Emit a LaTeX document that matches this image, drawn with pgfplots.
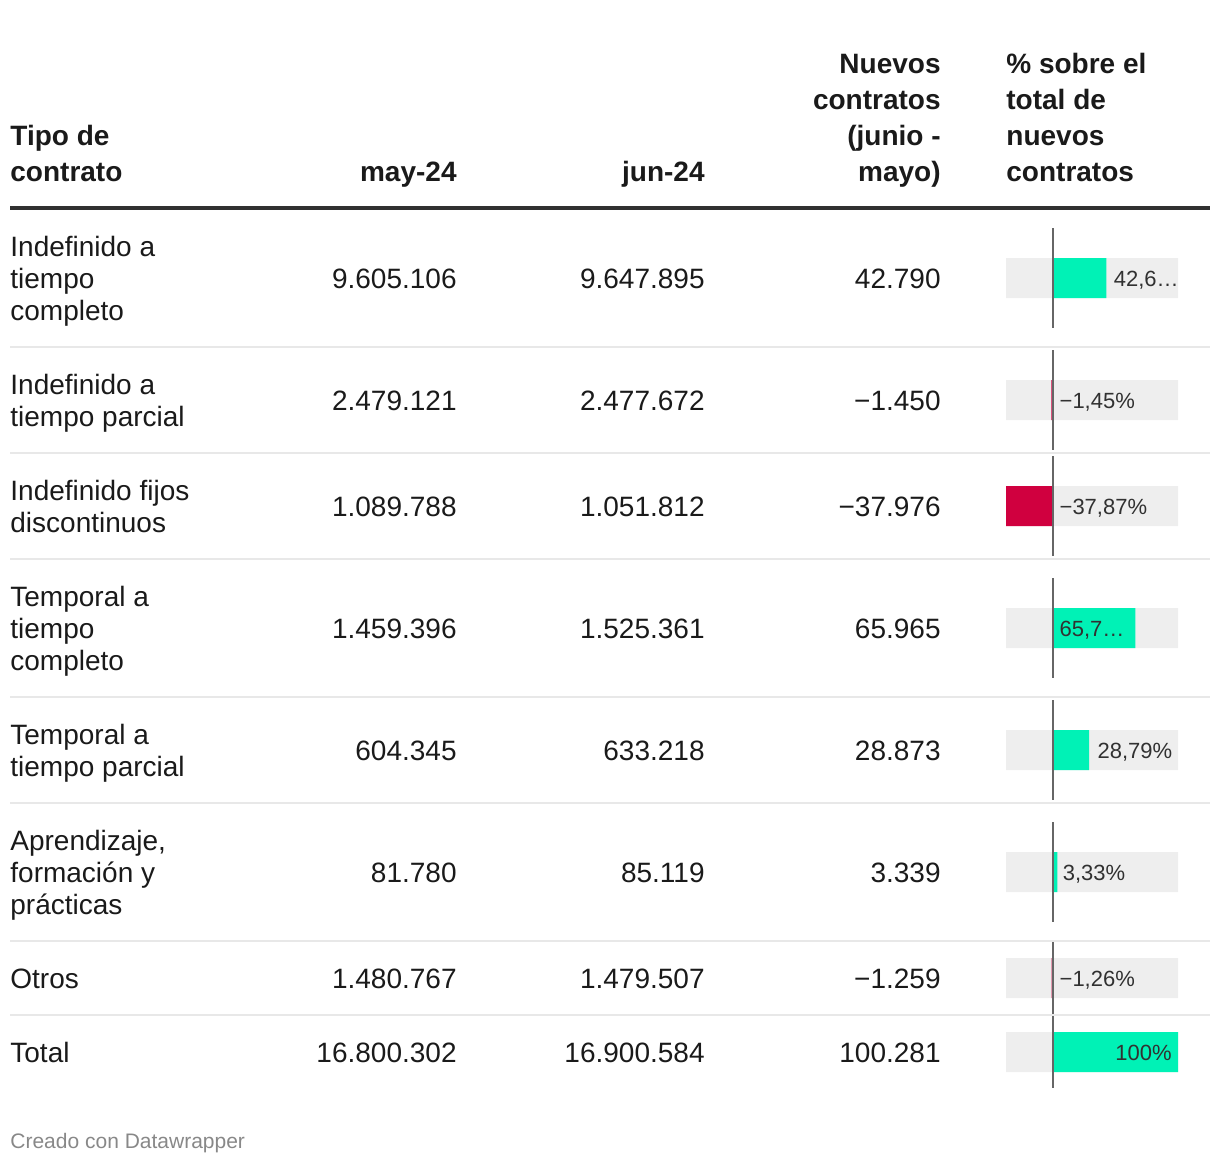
\documentclass[border=0pt]{standalone}
\usepackage{pgfplots}
\pgfplotsset{compat=1.18}
\usepackage{fontspec}
\setmainfont{Liberation Sans}
\definecolor{txt}{HTML}{1A1A1A}
\definecolor{pos}{HTML}{00F2B6}
\definecolor{neg}{HTML}{D0003F}
\definecolor{bgc}{HTML}{EEEEEE}
\definecolor{sep}{HTML}{E8E8E8}
\definecolor{zero}{HTML}{666666}
\definecolor{foot}{HTML}{888888}
\begin{document}
\begin{tikzpicture}[x=0.5pt,y=-0.5pt,
  h/.style={font=\fontsize{14}{16}\selectfont\bfseries, text=txt, inner sep=0pt},
  b/.style={font=\fontsize{14}{16}\selectfont, text=txt, inner sep=0pt},
  l/.style={font=\fontsize{11}{13}\selectfont, text=txt!90, inner sep=0pt}]
\useasboundingbox (0,0) rectangle (1220,1164);
% header
\node[h,anchor=base west] at (10,145) {Tipo de};
\node[h,anchor=base west] at (10,181) {contrato};
\node[h,anchor=base east] at (457,181) {may-24};
\node[h,anchor=base east] at (705,181) {jun-24};
\node[h,anchor=base east] at (941,73) {Nuevos};
\node[h,anchor=base east] at (941,109) {contratos};
\node[h,anchor=base east] at (941,145) {(junio -};
\node[h,anchor=base east] at (941,181) {mayo)};
\node[h,anchor=base west] at (1006,73) {\% sobre el};
\node[h,anchor=base west] at (1006,109) {total de};
\node[h,anchor=base west] at (1006,145) {nuevos};
\node[h,anchor=base west] at (1006,181) {contratos};
\draw[txt!90, line width=2pt] (10,208) -- (1210,208);
% separators
\foreach \yy in {347,453,559,697,803,941,1015}
  \draw[sep, line width=1pt] (10,\yy) -- (1210,\yy);
% row labels
\node[b,anchor=base west] at (10,256) {Indefinido a};
\node[b,anchor=base west] at (10,288) {tiempo};
\node[b,anchor=base west] at (10,320) {completo};
\node[b,anchor=base west] at (10,394) {Indefinido a};
\node[b,anchor=base west] at (10,426) {tiempo parcial};
\node[b,anchor=base west] at (10,500) {Indefinido fijos};
\node[b,anchor=base west] at (10,532) {discontinuos};
\node[b,anchor=base west] at (10,606) {Temporal a};
\node[b,anchor=base west] at (10,638) {tiempo};
\node[b,anchor=base west] at (10,670) {completo};
\node[b,anchor=base west] at (10,744) {Temporal a};
\node[b,anchor=base west] at (10,776) {tiempo parcial};
\node[b,anchor=base west] at (10,850) {Aprendizaje,};
\node[b,anchor=base west] at (10,882) {formación y};
\node[b,anchor=base west] at (10,914) {prácticas};
\node[b,anchor=base west] at (10,988) {Otros};
\node[b,anchor=base west] at (10,1062) {Total};
% numbers
\foreach \yy/\a/\bb/\c in {288/9.605.106/9.647.895/42.790,
  410/2.479.121/2.477.672/−1.450,
  516/1.089.788/1.051.812/−37.976,
  638/1.459.396/1.525.361/65.965,
  760/604.345/633.218/28.873,
  882/81.780/85.119/3.339,
  988/1.480.767/1.479.507/−1.259,
  1062/16.800.302/16.900.584/100.281}{
  \node[b,anchor=base east] at (457,\yy) {\a};
  \node[b,anchor=base east] at (705,\yy) {\bb};
  \node[b,anchor=base east] at (941,\yy) {\c};
}
\node[font=\fontsize{10.5}{12}\selectfont, text=foot, inner sep=0pt, anchor=base west] at (10,1148) {Creado con Datawrapper};
% bar column
\begin{axis}[at={(503pt,0pt)}, anchor=north west, scale only axis,
  width=86pt, height=582pt, xmin=-37.87, xmax=100, ymin=0, ymax=1164,
  y dir=reverse, hide axis, clip=false]
\addplot[xbar, bar width=40, bar shift=0pt, fill=bgc, draw=none]
  coordinates {(100,278) (100,400) (100,506) (100,628) (100,750) (100,872) (100,978) (100,1052)};
\addplot[xbar, bar width=40, bar shift=0pt, fill=bgc, draw=none]
  coordinates {(-37.87,278) (-37.87,400) (-37.87,506) (-37.87,628) (-37.87,750) (-37.87,872) (-37.87,978) (-37.87,1052)};
\addplot[xbar, bar width=40, bar shift=0pt, fill=pos, draw=none]
  coordinates {(42.67,278) (65.78,628) (28.79,750) (3.33,872) (100,1052)};
\addplot[xbar, bar width=40, bar shift=0pt, fill=neg, draw=none]
  coordinates {(-1.45,400) (-37.87,506) (-1.26,978)};
\addplot[zero, line width=1pt, unbounded coords=jump] coordinates {
  (0,228) (0,328) (0,nan) (0,350) (0,450) (0,nan) (0,456) (0,556) (0,nan)
  (0,578) (0,678) (0,nan) (0,700) (0,800) (0,nan) (0,822) (0,922) (0,nan)
  (0,942) (0,1014) (0,nan) (0,1016) (0,1088)};
\node[l,anchor=base west,xshift=3.5pt] at (axis cs:42.67,286) {42,6…};
\node[l,anchor=base west,xshift=3pt] at (axis cs:0,408) {−1,45\%};
\node[l,anchor=base west,xshift=3pt] at (axis cs:0,514) {−37,87\%};
\node[l,anchor=base west,xshift=3pt] at (axis cs:0,636) {65,7…};
\node[l,anchor=base west,xshift=4pt] at (axis cs:28.79,758) {28,79\%};
\node[l,anchor=base west,xshift=2.5pt] at (axis cs:3.33,880) {3,33\%};
\node[l,anchor=base west,xshift=3pt] at (axis cs:0,986) {−1,26\%};
\node[l,anchor=base east,xshift=-3pt] at (axis cs:100,1060) {100\%};
\end{axis}
\end{tikzpicture}
\end{document}
